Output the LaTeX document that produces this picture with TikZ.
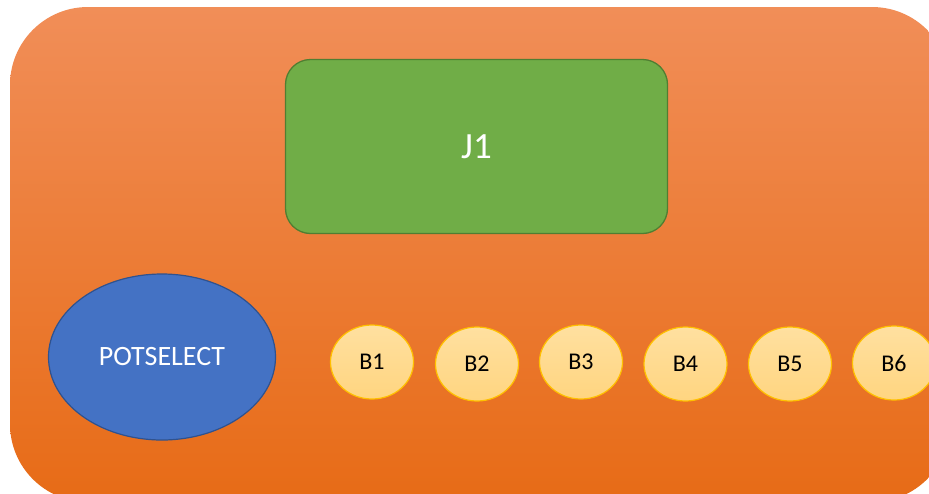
\documentclass[tikz,border=0pt]{standalone}
\usepackage{fontspec}
\setmainfont{Carlito}
\usetikzlibrary{shapes.geometric}
\definecolor{orTop}{RGB}{241,142,88}
\definecolor{orMid}{RGB}{246,122,36}
\definecolor{orBot}{RGB}{231,107,22}
\definecolor{jgreen}{RGB}{112,173,71}
\definecolor{jgreenD}{RGB}{80,126,50}
\definecolor{pblue}{RGB}{68,114,196}
\definecolor{pblueD}{RGB}{47,82,143}
\definecolor{byTop}{RGB}{255,224,160}
\definecolor{byBot}{RGB}{255,213,128}
\definecolor{byEdge}{RGB}{255,192,0}
\tikzset{
  boardbox/.style={rounded corners=78pt, top color=orTop, middle color=orMid, bottom color=orBot, minimum width=940pt, minimum height=495pt, inner sep=0pt},
  jbox/.style={rounded corners=25pt, fill=jgreen, draw=jgreenD, line width=1.3pt, minimum width=382pt, minimum height=174pt, inner sep=0pt, text=white, font=\fontsize{37}{40}\selectfont},
  potbox/.style={ellipse, fill=pblue, draw=pblueD, line width=1.2pt, minimum width=227pt, minimum height=166pt, inner sep=0pt, text=white, font=\fontsize{28}{30}\selectfont},
  btnbox/.style={ellipse, top color=byTop, bottom color=byBot, draw=byEdge, line width=1.2pt, minimum width=83pt, minimum height=74pt, inner sep=0pt, text=black, font=\fontsize{24}{28}\selectfont}
}
\begin{document}
\begin{tikzpicture}[x=1pt,y=-1pt]
\useasboundingbox (0,0) rectangle (929,493);
\clip (0,0) rectangle (929,493);
\fill[white] (0,0) rectangle (929,493);
\node[boardbox] (board) at (480,254.5) {};
\node[jbox] (J1) at (476.5,146.5) {J1};
\node[potbox] (pot) at (162,357) {POTSELECT};
\node[btnbox] (B1) at (372,362) {B1};
\node[btnbox] (B2) at (477,364) {B2};
\node[btnbox] (B3) at (581,362) {B3};
\node[btnbox] (B4) at (685.5,364) {B4};
\node[btnbox] (B5) at (790,364) {B5};
\node[btnbox] (B6) at (894,363) {B6};
\end{tikzpicture}
\end{document}
